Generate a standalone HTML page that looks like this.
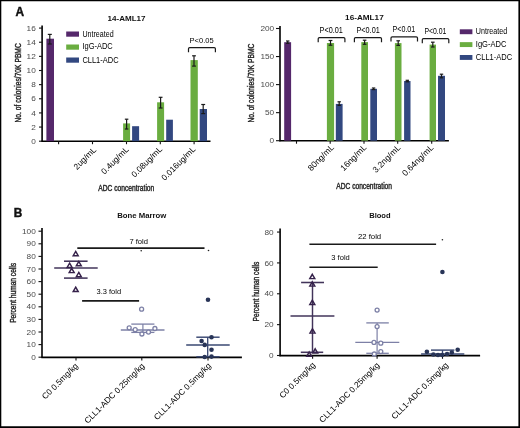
<!DOCTYPE html>
<html><head><meta charset="utf-8"><style>
html,body{margin:0;padding:0;background:#fff;}
svg{display:block;filter:blur(0.3px);}
text{font-family:"Liberation Sans", sans-serif;}
</style></head><body>
<svg width="520" height="428" viewBox="0 0 520 428">
<rect x="0" y="0" width="520" height="428" fill="#fff"/>
<text x="15.4" y="15.6" font-size="12.0" stroke="#111" stroke-width="0.42" textLength="8.6" lengthAdjust="spacingAndGlyphs" font-weight="bold" fill="#111">A</text>
<text x="13.7" y="216.6" font-size="12.0" stroke="#111" stroke-width="0.42" textLength="8.5" lengthAdjust="spacingAndGlyphs" font-weight="bold" fill="#111">B</text>
<line x1="42.1" y1="25.5" x2="42.1" y2="141.8" stroke="#000" stroke-width="1.6"/>
<line x1="41.4" y1="141.2" x2="210.5" y2="141.2" stroke="#000" stroke-width="1.6"/>
<line x1="39.0" y1="141.2" x2="42.1" y2="141.2" stroke="#111" stroke-width="1.1"/>
<text x="35.8" y="143.8" font-size="7.6" textLength="4.6" lengthAdjust="spacingAndGlyphs" text-anchor="end" fill="#4a4a4a">0</text>
<line x1="39.0" y1="127.06" x2="42.1" y2="127.06" stroke="#111" stroke-width="1.1"/>
<text x="35.8" y="129.66" font-size="7.6" textLength="4.6" lengthAdjust="spacingAndGlyphs" text-anchor="end" fill="#4a4a4a">2</text>
<line x1="39.0" y1="112.92" x2="42.1" y2="112.92" stroke="#111" stroke-width="1.1"/>
<text x="35.8" y="115.52" font-size="7.6" textLength="4.6" lengthAdjust="spacingAndGlyphs" text-anchor="end" fill="#4a4a4a">4</text>
<line x1="39.0" y1="98.78" x2="42.1" y2="98.78" stroke="#111" stroke-width="1.1"/>
<text x="35.8" y="101.38" font-size="7.6" textLength="4.6" lengthAdjust="spacingAndGlyphs" text-anchor="end" fill="#4a4a4a">6</text>
<line x1="39.0" y1="84.64" x2="42.1" y2="84.64" stroke="#111" stroke-width="1.1"/>
<text x="35.8" y="87.24" font-size="7.6" textLength="4.6" lengthAdjust="spacingAndGlyphs" text-anchor="end" fill="#4a4a4a">8</text>
<line x1="39.0" y1="70.5" x2="42.1" y2="70.5" stroke="#111" stroke-width="1.1"/>
<text x="35.8" y="73.1" font-size="7.6" textLength="9.2" lengthAdjust="spacingAndGlyphs" text-anchor="end" fill="#4a4a4a">10</text>
<line x1="39.0" y1="56.36" x2="42.1" y2="56.36" stroke="#111" stroke-width="1.1"/>
<text x="35.8" y="58.96" font-size="7.6" textLength="9.2" lengthAdjust="spacingAndGlyphs" text-anchor="end" fill="#4a4a4a">12</text>
<line x1="39.0" y1="42.22" x2="42.1" y2="42.22" stroke="#111" stroke-width="1.1"/>
<text x="35.8" y="44.82" font-size="7.6" textLength="9.2" lengthAdjust="spacingAndGlyphs" text-anchor="end" fill="#4a4a4a">14</text>
<line x1="39.0" y1="28.08" x2="42.1" y2="28.08" stroke="#111" stroke-width="1.1"/>
<text x="35.8" y="30.68" font-size="7.6" textLength="9.2" lengthAdjust="spacingAndGlyphs" text-anchor="end" fill="#4a4a4a">16</text>
<line x1="58.6" y1="141.2" x2="58.6" y2="144.2" stroke="#111" stroke-width="1.1"/>
<line x1="92.5" y1="141.2" x2="92.5" y2="144.2" stroke="#111" stroke-width="1.1"/>
<line x1="126.5" y1="141.2" x2="126.5" y2="144.2" stroke="#111" stroke-width="1.1"/>
<line x1="160.3" y1="141.2" x2="160.3" y2="144.2" stroke="#111" stroke-width="1.1"/>
<line x1="194.1" y1="141.2" x2="194.1" y2="144.2" stroke="#111" stroke-width="1.1"/>
<rect x="46.4" y="38.7" width="7.6" height="102.5" fill="#55286b"/>
<rect x="123.1" y="123.4" width="7.0" height="17.8" fill="#6aad40"/>
<rect x="132.1" y="126.2" width="7.0" height="15.0" fill="#324880"/>
<rect x="157.1" y="102.3" width="7.0" height="38.9" fill="#6aad40"/>
<rect x="166.2" y="119.7" width="6.7" height="21.5" fill="#324880"/>
<rect x="190.5" y="60.1" width="7.3" height="81.1" fill="#6aad40"/>
<rect x="199.7" y="109.0" width="7.3" height="32.2" fill="#324880"/>
<line x1="49.8" y1="34.4" x2="49.8" y2="44.0" stroke="#1a1a1a" stroke-width="1.2"/>
<line x1="47.8" y1="34.4" x2="51.8" y2="34.4" stroke="#1a1a1a" stroke-width="1.2"/>
<line x1="47.8" y1="44.0" x2="51.8" y2="44.0" stroke="#1a1a1a" stroke-width="1.2"/>
<line x1="126.6" y1="119.2" x2="126.6" y2="129.0" stroke="#1a1a1a" stroke-width="1.2"/>
<line x1="124.85" y1="119.2" x2="128.35" y2="119.2" stroke="#1a1a1a" stroke-width="1.2"/>
<line x1="124.85" y1="129.0" x2="128.35" y2="129.0" stroke="#1a1a1a" stroke-width="1.2"/>
<line x1="160.6" y1="97.3" x2="160.6" y2="108.0" stroke="#1a1a1a" stroke-width="1.2"/>
<line x1="158.7" y1="97.3" x2="162.5" y2="97.3" stroke="#1a1a1a" stroke-width="1.2"/>
<line x1="158.7" y1="108.0" x2="162.5" y2="108.0" stroke="#1a1a1a" stroke-width="1.2"/>
<line x1="194.0" y1="55.8" x2="194.0" y2="66.1" stroke="#1a1a1a" stroke-width="1.2"/>
<line x1="192.1" y1="55.8" x2="195.9" y2="55.8" stroke="#1a1a1a" stroke-width="1.2"/>
<line x1="192.1" y1="66.1" x2="195.9" y2="66.1" stroke="#1a1a1a" stroke-width="1.2"/>
<line x1="203.2" y1="104.5" x2="203.2" y2="113.6" stroke="#1a1a1a" stroke-width="1.2"/>
<line x1="201.25" y1="104.5" x2="205.15" y2="104.5" stroke="#1a1a1a" stroke-width="1.2"/>
<line x1="201.25" y1="113.6" x2="205.15" y2="113.6" stroke="#1a1a1a" stroke-width="1.2"/>
<path d="M188.5 52.300000000000004 L188.5 48.800000000000004 Q188.5 47.6 189.7 47.6 L214.20000000000002 47.6 Q215.4 47.6 215.4 48.800000000000004 L215.4 52.300000000000004" fill="none" stroke="#1a1a1a" stroke-width="1.2"/>
<text x="189.6" y="42.6" font-size="8.0" textLength="24.0" lengthAdjust="spacingAndGlyphs">P&lt;0.05</text>
<rect x="66.2" y="31.5" width="12.8" height="5.2" fill="#55286b"/>
<text x="82.4" y="36.7" font-size="8.2" textLength="31.2" lengthAdjust="spacingAndGlyphs">Untreated</text>
<rect x="66.2" y="44.5" width="12.8" height="5.2" fill="#6aad40"/>
<text x="82.4" y="49.2" font-size="8.2" textLength="30.4" lengthAdjust="spacingAndGlyphs">IgG-ADC</text>
<rect x="66.2" y="57.5" width="12.8" height="5.2" fill="#324880"/>
<text x="82.4" y="62.7" font-size="8.2" textLength="36.2" lengthAdjust="spacingAndGlyphs">CLL1-ADC</text>
<text x="107.5" y="20.6" font-size="7.6" textLength="38.1" lengthAdjust="spacingAndGlyphs" font-weight="bold" fill="#111">14-AML17</text>
<text x="21.0" y="122.6" font-size="8.8" stroke="#333" stroke-width="0.42" textLength="79.4" lengthAdjust="spacingAndGlyphs" transform="rotate(-90 21.0 122.6)">No. of colonies/70K PBMC</text>
<text x="98.3" y="190.7" font-size="8.6" stroke="#333" stroke-width="0.42" textLength="56.0" lengthAdjust="spacingAndGlyphs">ADC concentration</text>
<text x="96.8" y="150.4" font-size="8.4" text-anchor="end" transform="rotate(-45 96.8 150.4)">2ug/mL</text>
<text x="129.2" y="150.0" font-size="8.4" text-anchor="end" transform="rotate(-45 129.2 150.0)">0.4ug/mL</text>
<text x="162.8" y="149.8" font-size="8.4" text-anchor="end" transform="rotate(-45 162.8 149.8)">0.08ug/mL</text>
<text x="196.1" y="149.8" font-size="8.4" text-anchor="end" transform="rotate(-45 196.1 149.8)">0.016ug/mL</text>
<line x1="280.0" y1="25.9" x2="280.0" y2="141.3" stroke="#000" stroke-width="1.6"/>
<line x1="279.3" y1="140.7" x2="448.9" y2="140.7" stroke="#000" stroke-width="1.6"/>
<line x1="276.0" y1="140.7" x2="280.0" y2="140.7" stroke="#111" stroke-width="1.1"/>
<text x="274.2" y="143.3" font-size="7.6" textLength="4.6" lengthAdjust="spacingAndGlyphs" text-anchor="end" fill="#4a4a4a">0</text>
<line x1="276.0" y1="112.65" x2="280.0" y2="112.65" stroke="#111" stroke-width="1.1"/>
<text x="274.2" y="115.25" font-size="7.6" textLength="9.2" lengthAdjust="spacingAndGlyphs" text-anchor="end" fill="#4a4a4a">50</text>
<line x1="276.0" y1="84.6" x2="280.0" y2="84.6" stroke="#111" stroke-width="1.1"/>
<text x="274.2" y="87.2" font-size="7.6" textLength="13.8" lengthAdjust="spacingAndGlyphs" text-anchor="end" fill="#4a4a4a">100</text>
<line x1="276.0" y1="56.55" x2="280.0" y2="56.55" stroke="#111" stroke-width="1.1"/>
<text x="274.2" y="59.15" font-size="7.6" textLength="13.8" lengthAdjust="spacingAndGlyphs" text-anchor="end" fill="#4a4a4a">150</text>
<line x1="276.0" y1="28.5" x2="280.0" y2="28.5" stroke="#111" stroke-width="1.1"/>
<text x="274.2" y="31.1" font-size="7.6" textLength="13.8" lengthAdjust="spacingAndGlyphs" text-anchor="end" fill="#4a4a4a">200</text>
<line x1="296.5" y1="140.7" x2="296.5" y2="143.7" stroke="#111" stroke-width="1.1"/>
<line x1="330.2" y1="140.7" x2="330.2" y2="143.7" stroke="#111" stroke-width="1.1"/>
<line x1="364.0" y1="140.7" x2="364.0" y2="143.7" stroke="#111" stroke-width="1.1"/>
<line x1="397.7" y1="140.7" x2="397.7" y2="143.7" stroke="#111" stroke-width="1.1"/>
<line x1="431.7" y1="140.7" x2="431.7" y2="143.7" stroke="#111" stroke-width="1.1"/>
<rect x="284.2" y="42.2" width="6.9" height="98.5" fill="#55286b"/>
<rect x="326.9" y="43.0" width="7.2" height="97.7" fill="#6aad40"/>
<rect x="335.8" y="103.9" width="6.8" height="36.8" fill="#324880"/>
<rect x="361.3" y="42.1" width="6.7" height="98.6" fill="#6aad40"/>
<rect x="370.3" y="88.8" width="6.7" height="51.9" fill="#324880"/>
<rect x="394.9" y="43.1" width="6.6" height="97.6" fill="#6aad40"/>
<rect x="404.1" y="81.0" width="6.4" height="59.7" fill="#324880"/>
<rect x="429.6" y="44.6" width="6.4" height="96.1" fill="#6aad40"/>
<rect x="438.0" y="75.8" width="7.0" height="64.9" fill="#324880"/>
<line x1="287.7" y1="41.0" x2="287.7" y2="43.3" stroke="#1a1a1a" stroke-width="1.2"/>
<line x1="285.95" y1="41.0" x2="289.45" y2="41.0" stroke="#1a1a1a" stroke-width="1.2"/>
<line x1="285.95" y1="43.3" x2="289.45" y2="43.3" stroke="#1a1a1a" stroke-width="1.2"/>
<line x1="330.5" y1="40.5" x2="330.5" y2="45.2" stroke="#1a1a1a" stroke-width="1.2"/>
<line x1="328.6" y1="40.5" x2="332.4" y2="40.5" stroke="#1a1a1a" stroke-width="1.2"/>
<line x1="328.6" y1="45.2" x2="332.4" y2="45.2" stroke="#1a1a1a" stroke-width="1.2"/>
<line x1="339.2" y1="101.8" x2="339.2" y2="105.4" stroke="#1a1a1a" stroke-width="1.2"/>
<line x1="337.5" y1="101.8" x2="340.9" y2="101.8" stroke="#1a1a1a" stroke-width="1.2"/>
<line x1="337.5" y1="105.4" x2="340.9" y2="105.4" stroke="#1a1a1a" stroke-width="1.2"/>
<line x1="364.6" y1="40.2" x2="364.6" y2="44.3" stroke="#1a1a1a" stroke-width="1.2"/>
<line x1="362.8" y1="40.2" x2="366.4" y2="40.2" stroke="#1a1a1a" stroke-width="1.2"/>
<line x1="362.8" y1="44.3" x2="366.4" y2="44.3" stroke="#1a1a1a" stroke-width="1.2"/>
<line x1="373.6" y1="88.0" x2="373.6" y2="89.6" stroke="#1a1a1a" stroke-width="1.2"/>
<line x1="371.9" y1="88.0" x2="375.3" y2="88.0" stroke="#1a1a1a" stroke-width="1.2"/>
<line x1="371.9" y1="89.6" x2="375.3" y2="89.6" stroke="#1a1a1a" stroke-width="1.2"/>
<line x1="398.2" y1="40.8" x2="398.2" y2="45.4" stroke="#1a1a1a" stroke-width="1.2"/>
<line x1="396.4" y1="40.8" x2="400.0" y2="40.8" stroke="#1a1a1a" stroke-width="1.2"/>
<line x1="396.4" y1="45.4" x2="400.0" y2="45.4" stroke="#1a1a1a" stroke-width="1.2"/>
<line x1="407.3" y1="80.3" x2="407.3" y2="81.8" stroke="#1a1a1a" stroke-width="1.2"/>
<line x1="405.6" y1="80.3" x2="409.0" y2="80.3" stroke="#1a1a1a" stroke-width="1.2"/>
<line x1="405.6" y1="81.8" x2="409.0" y2="81.8" stroke="#1a1a1a" stroke-width="1.2"/>
<line x1="432.8" y1="42.2" x2="432.8" y2="47.0" stroke="#1a1a1a" stroke-width="1.2"/>
<line x1="431.0" y1="42.2" x2="434.6" y2="42.2" stroke="#1a1a1a" stroke-width="1.2"/>
<line x1="431.0" y1="47.0" x2="434.6" y2="47.0" stroke="#1a1a1a" stroke-width="1.2"/>
<line x1="441.5" y1="74.2" x2="441.5" y2="77.8" stroke="#1a1a1a" stroke-width="1.2"/>
<line x1="439.8" y1="74.2" x2="443.2" y2="74.2" stroke="#1a1a1a" stroke-width="1.2"/>
<line x1="439.8" y1="77.8" x2="443.2" y2="77.8" stroke="#1a1a1a" stroke-width="1.2"/>
<path d="M318.2 42.300000000000004 L318.2 38.800000000000004 Q318.2 37.6 319.4 37.6 L343.7 37.6 Q344.9 37.6 344.9 38.800000000000004 L344.9 42.300000000000004" fill="none" stroke="#1a1a1a" stroke-width="1.2"/>
<path d="M354.4 42.300000000000004 L354.4 38.800000000000004 Q354.4 37.6 355.59999999999997 37.6 L380.3 37.6 Q381.5 37.6 381.5 38.800000000000004 L381.5 42.300000000000004" fill="none" stroke="#1a1a1a" stroke-width="1.2"/>
<path d="M391.0 41.6 L391.0 38.1 Q391.0 36.9 392.2 36.9 L416.3 36.9 Q417.5 36.9 417.5 38.1 L417.5 41.6" fill="none" stroke="#1a1a1a" stroke-width="1.2"/>
<path d="M422.3 43.300000000000004 L422.3 39.800000000000004 Q422.3 38.6 423.5 38.6 L447.6 38.6 Q448.8 38.6 448.8 39.800000000000004 L448.8 43.300000000000004" fill="none" stroke="#1a1a1a" stroke-width="1.2"/>
<text x="319.6" y="32.8" font-size="8.3" textLength="23.2" lengthAdjust="spacingAndGlyphs">P&lt;0.01</text>
<text x="356.5" y="32.5" font-size="8.3" textLength="23.2" lengthAdjust="spacingAndGlyphs">P&lt;0.01</text>
<text x="392.5" y="31.6" font-size="8.3" textLength="22.8" lengthAdjust="spacingAndGlyphs">P&lt;0.01</text>
<text x="424.4" y="33.5" font-size="8.3" textLength="21.9" lengthAdjust="spacingAndGlyphs">P&lt;0.01</text>
<rect x="459.8" y="29.3" width="12.6" height="4.9" fill="#55286b"/>
<text x="475.8" y="34.0" font-size="8.2" textLength="31.4" lengthAdjust="spacingAndGlyphs">Untreated</text>
<rect x="459.8" y="42.15" width="12.6" height="4.9" fill="#6aad40"/>
<text x="475.8" y="47.0" font-size="8.2" textLength="30.6" lengthAdjust="spacingAndGlyphs">IgG-ADC</text>
<rect x="459.8" y="55.0" width="12.6" height="4.9" fill="#324880"/>
<text x="475.8" y="60.0" font-size="8.2" textLength="36.4" lengthAdjust="spacingAndGlyphs">CLL1-ADC</text>
<text x="345.1" y="20.0" font-size="7.6" textLength="38.6" lengthAdjust="spacingAndGlyphs" font-weight="bold" fill="#111">16-AML17</text>
<text x="254.2" y="122.6" font-size="8.8" stroke="#333" stroke-width="0.42" textLength="79.0" lengthAdjust="spacingAndGlyphs" transform="rotate(-90 254.2 122.6)">No. of colonies/70K PBMC</text>
<text x="336.3" y="189.3" font-size="8.6" stroke="#333" stroke-width="0.42" textLength="55.7" lengthAdjust="spacingAndGlyphs">ADC concentration</text>
<text x="334.6" y="148.0" font-size="8.5" text-anchor="end" transform="rotate(-45 334.6 148.0)">80ng/mL</text>
<text x="367.2" y="148.0" font-size="8.5" text-anchor="end" transform="rotate(-45 367.2 148.0)">16ng/mL</text>
<text x="401.1" y="148.2" font-size="8.5" text-anchor="end" transform="rotate(-45 401.1 148.2)">3.2ng/mL</text>
<text x="434.0" y="148.2" font-size="8.5" text-anchor="end" transform="rotate(-45 434.0 148.2)">0.64ng/mL</text>
<line x1="42.0" y1="228.0" x2="42.0" y2="358.0" stroke="#000" stroke-width="1.6"/>
<line x1="41.3" y1="357.4" x2="241.9" y2="357.4" stroke="#000" stroke-width="1.6"/>
<line x1="38.5" y1="357.2" x2="42.0" y2="357.2" stroke="#111" stroke-width="1.1"/>
<text x="35.8" y="359.8" font-size="7.6" textLength="4.6" lengthAdjust="spacingAndGlyphs" text-anchor="end" fill="#4a4a4a">0</text>
<line x1="38.5" y1="344.6" x2="42.0" y2="344.6" stroke="#111" stroke-width="1.1"/>
<text x="35.8" y="347.2" font-size="7.6" textLength="9.2" lengthAdjust="spacingAndGlyphs" text-anchor="end" fill="#4a4a4a">10</text>
<line x1="38.5" y1="332.0" x2="42.0" y2="332.0" stroke="#111" stroke-width="1.1"/>
<text x="35.8" y="334.6" font-size="7.6" textLength="9.2" lengthAdjust="spacingAndGlyphs" text-anchor="end" fill="#4a4a4a">20</text>
<line x1="38.5" y1="319.4" x2="42.0" y2="319.4" stroke="#111" stroke-width="1.1"/>
<text x="35.8" y="322.0" font-size="7.6" textLength="9.2" lengthAdjust="spacingAndGlyphs" text-anchor="end" fill="#4a4a4a">30</text>
<line x1="38.5" y1="306.8" x2="42.0" y2="306.8" stroke="#111" stroke-width="1.1"/>
<text x="35.8" y="309.4" font-size="7.6" textLength="9.2" lengthAdjust="spacingAndGlyphs" text-anchor="end" fill="#4a4a4a">40</text>
<line x1="38.5" y1="294.2" x2="42.0" y2="294.2" stroke="#111" stroke-width="1.1"/>
<text x="35.8" y="296.8" font-size="7.6" textLength="9.2" lengthAdjust="spacingAndGlyphs" text-anchor="end" fill="#4a4a4a">50</text>
<line x1="38.5" y1="281.6" x2="42.0" y2="281.6" stroke="#111" stroke-width="1.1"/>
<text x="35.8" y="284.2" font-size="7.6" textLength="9.2" lengthAdjust="spacingAndGlyphs" text-anchor="end" fill="#4a4a4a">60</text>
<line x1="38.5" y1="269.0" x2="42.0" y2="269.0" stroke="#111" stroke-width="1.1"/>
<text x="35.8" y="271.6" font-size="7.6" textLength="9.2" lengthAdjust="spacingAndGlyphs" text-anchor="end" fill="#4a4a4a">70</text>
<line x1="38.5" y1="256.4" x2="42.0" y2="256.4" stroke="#111" stroke-width="1.1"/>
<text x="35.8" y="259.0" font-size="7.6" textLength="9.2" lengthAdjust="spacingAndGlyphs" text-anchor="end" fill="#4a4a4a">80</text>
<line x1="38.5" y1="243.8" x2="42.0" y2="243.8" stroke="#111" stroke-width="1.1"/>
<text x="35.8" y="246.4" font-size="7.6" textLength="9.2" lengthAdjust="spacingAndGlyphs" text-anchor="end" fill="#4a4a4a">90</text>
<line x1="38.5" y1="231.2" x2="42.0" y2="231.2" stroke="#111" stroke-width="1.1"/>
<text x="35.8" y="233.8" font-size="7.6" textLength="13.8" lengthAdjust="spacingAndGlyphs" text-anchor="end" fill="#4a4a4a">100</text>
<line x1="76.0" y1="357.4" x2="76.0" y2="360.4" stroke="#111" stroke-width="1.1"/>
<line x1="141.8" y1="357.4" x2="141.8" y2="360.4" stroke="#111" stroke-width="1.1"/>
<line x1="208.0" y1="357.4" x2="208.0" y2="360.4" stroke="#111" stroke-width="1.1"/>
<text x="117.2" y="218.3" font-size="7.9" textLength="49.2" lengthAdjust="spacingAndGlyphs" font-weight="bold" fill="#111">Bone Marrow</text>
<text x="16.2" y="322.8" font-size="8.8" stroke="#333" stroke-width="0.42" textLength="59.9" lengthAdjust="spacingAndGlyphs" transform="rotate(-90 16.2 322.8)">Percent human cells</text>
<line x1="77.3" y1="248.1" x2="204.5" y2="248.1" stroke="#1a1a1a" stroke-width="1.6"/>
<line x1="82.1" y1="300.9" x2="139.1" y2="300.9" stroke="#1a1a1a" stroke-width="1.6"/>
<text x="129.4" y="243.5" font-size="8.1" textLength="18.6" lengthAdjust="spacingAndGlyphs">7 fold</text>
<text x="96.6" y="294.0" font-size="8.1" textLength="24.5" lengthAdjust="spacingAndGlyphs">3.3 fold</text>
<circle cx="141.2" cy="250.8" r="0.8" fill="#222"/>
<circle cx="208.5" cy="250.5" r="0.8" fill="#222"/>
<line x1="64.0" y1="261.2" x2="87.6" y2="261.2" stroke="#42345a" stroke-width="1.55"/>
<line x1="64.0" y1="278.1" x2="87.6" y2="278.1" stroke="#42345a" stroke-width="1.55"/>
<line x1="54.2" y1="268.0" x2="97.7" y2="268.0" stroke="#42345a" stroke-width="1.55"/>
<path d="M75.7 251.39 L78.2 255.74 L73.2 255.74 Z" fill="none" stroke="#35214a" stroke-width="1.45" stroke-linejoin="miter"/>
<path d="M69.6 263.09 L72.1 267.44 L67.1 267.44 Z" fill="none" stroke="#35214a" stroke-width="1.45" stroke-linejoin="miter"/>
<path d="M78.8 261.49 L81.3 265.84 L76.3 265.84 Z" fill="none" stroke="#35214a" stroke-width="1.45" stroke-linejoin="miter"/>
<path d="M71.7 268.29 L74.2 272.64 L69.2 272.64 Z" fill="none" stroke="#35214a" stroke-width="1.45" stroke-linejoin="miter"/>
<path d="M78.8 272.39 L81.3 276.74 L76.3 276.74 Z" fill="none" stroke="#35214a" stroke-width="1.45" stroke-linejoin="miter"/>
<path d="M75.7 287.19 L78.2 291.54 L73.2 291.54 Z" fill="none" stroke="#35214a" stroke-width="1.45" stroke-linejoin="miter"/>
<line x1="131.3" y1="324.1" x2="154.4" y2="324.1" stroke="#7d80a6" stroke-width="1.3"/>
<line x1="131.3" y1="332.4" x2="154.4" y2="332.4" stroke="#7d80a6" stroke-width="1.3"/>
<line x1="120.8" y1="330.0" x2="164.5" y2="330.0" stroke="#7d80a6" stroke-width="1.3"/>
<line x1="142.9" y1="324.1" x2="142.9" y2="332.4" stroke="#7d80a6" stroke-width="1.2"/>
<circle cx="129.2" cy="327.8" r="2.0" fill="#fff" stroke="#7d80a6" stroke-width="1.3"/>
<circle cx="135.2" cy="329.7" r="2.0" fill="#fff" stroke="#7d80a6" stroke-width="1.3"/>
<circle cx="141.9" cy="334.0" r="2.0" fill="#fff" stroke="#7d80a6" stroke-width="1.3"/>
<circle cx="148.5" cy="332.1" r="2.0" fill="#fff" stroke="#7d80a6" stroke-width="1.3"/>
<circle cx="154.9" cy="328.5" r="2.0" fill="#fff" stroke="#7d80a6" stroke-width="1.3"/>
<circle cx="141.6" cy="309.2" r="2.0" fill="#fff" stroke="#7d80a6" stroke-width="1.3"/>
<line x1="196.3" y1="337.2" x2="219.6" y2="337.2" stroke="#3a4872" stroke-width="1.45"/>
<line x1="186.2" y1="344.9" x2="229.7" y2="344.9" stroke="#3a4872" stroke-width="1.45"/>
<line x1="196.3" y1="356.8" x2="219.6" y2="356.8" stroke="#3a4872" stroke-width="1.45"/>
<line x1="207.7" y1="337.2" x2="207.7" y2="357.0" stroke="#3a4872" stroke-width="1.35"/>
<circle cx="211.5" cy="337.2" r="2.3" fill="#283457"/>
<circle cx="201.6" cy="341.0" r="2.3" fill="#283457"/>
<circle cx="204.7" cy="344.9" r="2.3" fill="#283457"/>
<circle cx="211.5" cy="349.8" r="2.3" fill="#283457"/>
<circle cx="204.7" cy="357.0" r="2.3" fill="#283457"/>
<circle cx="211.5" cy="356.6" r="2.3" fill="#283457"/>
<circle cx="208.0" cy="299.8" r="2.3" fill="#283457"/>
<text x="78.6" y="366.5" font-size="8.3" text-anchor="end" transform="rotate(-45 78.6 366.5)">C0 0.5mg/kg</text>
<text x="145.1" y="366.5" font-size="8.3" text-anchor="end" transform="rotate(-45 145.1 366.5)">CLL1-ADC 0.25mg/kg</text>
<text x="211.5" y="366.3" font-size="8.3" text-anchor="end" transform="rotate(-45 211.5 366.3)">CLL1-ADC 0.5mg/kg</text>
<line x1="280.1" y1="228.4" x2="280.1" y2="356.2" stroke="#000" stroke-width="1.6"/>
<line x1="279.4" y1="355.6" x2="480.1" y2="355.6" stroke="#000" stroke-width="1.6"/>
<line x1="277.0" y1="355.5" x2="280.1" y2="355.5" stroke="#111" stroke-width="1.1"/>
<text x="273.6" y="358.1" font-size="7.6" textLength="4.6" lengthAdjust="spacingAndGlyphs" text-anchor="end" fill="#4a4a4a">0</text>
<line x1="277.0" y1="324.64" x2="280.1" y2="324.64" stroke="#111" stroke-width="1.1"/>
<text x="273.6" y="327.24" font-size="7.6" textLength="9.2" lengthAdjust="spacingAndGlyphs" text-anchor="end" fill="#4a4a4a">20</text>
<line x1="277.0" y1="293.78" x2="280.1" y2="293.78" stroke="#111" stroke-width="1.1"/>
<text x="273.6" y="296.38" font-size="7.6" textLength="9.2" lengthAdjust="spacingAndGlyphs" text-anchor="end" fill="#4a4a4a">40</text>
<line x1="277.0" y1="262.92" x2="280.1" y2="262.92" stroke="#111" stroke-width="1.1"/>
<text x="273.6" y="265.52" font-size="7.6" textLength="9.2" lengthAdjust="spacingAndGlyphs" text-anchor="end" fill="#4a4a4a">60</text>
<line x1="277.0" y1="232.06" x2="280.1" y2="232.06" stroke="#111" stroke-width="1.1"/>
<text x="273.6" y="234.66" font-size="7.6" textLength="9.2" lengthAdjust="spacingAndGlyphs" text-anchor="end" fill="#4a4a4a">80</text>
<line x1="312.6" y1="355.6" x2="312.6" y2="358.8" stroke="#111" stroke-width="1.1"/>
<line x1="377.1" y1="355.6" x2="377.1" y2="358.8" stroke="#111" stroke-width="1.1"/>
<line x1="442.5" y1="355.6" x2="442.5" y2="358.8" stroke="#111" stroke-width="1.1"/>
<text x="369.2" y="218.0" font-size="7.9" textLength="21.4" lengthAdjust="spacingAndGlyphs" font-weight="bold" fill="#111">Blood</text>
<text x="258.6" y="321.4" font-size="8.8" stroke="#333" stroke-width="0.42" textLength="59.7" lengthAdjust="spacingAndGlyphs" transform="rotate(-90 258.6 321.4)">Percent human cells</text>
<line x1="309.4" y1="244.3" x2="436.1" y2="244.3" stroke="#1a1a1a" stroke-width="1.6"/>
<line x1="309.4" y1="267.2" x2="377.7" y2="267.2" stroke="#1a1a1a" stroke-width="1.6"/>
<text x="357.9" y="238.8" font-size="8.1" textLength="23.3" lengthAdjust="spacingAndGlyphs">22 fold</text>
<text x="331.3" y="259.6" font-size="8.1" textLength="18.5" lengthAdjust="spacingAndGlyphs">3 fold</text>
<circle cx="442.4" cy="239.7" r="0.8" fill="#222"/>
<line x1="290.5" y1="315.9" x2="334.4" y2="315.9" stroke="#42345a" stroke-width="1.55"/>
<line x1="301.1" y1="282.5" x2="324.0" y2="282.5" stroke="#42345a" stroke-width="1.55"/>
<line x1="300.8" y1="352.3" x2="323.2" y2="352.3" stroke="#42345a" stroke-width="1.55"/>
<line x1="312.5" y1="282.5" x2="312.5" y2="352.3" stroke="#42345a" stroke-width="1.45"/>
<path d="M312.3 274.29 L314.8 278.64 L309.8 278.64 Z" fill="none" stroke="#35214a" stroke-width="1.45" stroke-linejoin="miter"/>
<path d="M312.3 281.79 L314.8 286.14 L309.8 286.14 Z" fill="none" stroke="#35214a" stroke-width="1.45" stroke-linejoin="miter"/>
<path d="M312.3 300.09 L314.8 304.44 L309.8 304.44 Z" fill="none" stroke="#35214a" stroke-width="1.45" stroke-linejoin="miter"/>
<path d="M312.5 328.79 L315.0 333.14 L310.0 333.14 Z" fill="none" stroke="#35214a" stroke-width="1.45" stroke-linejoin="miter"/>
<path d="M309.2 351.99 L311.7 356.34 L306.7 356.34 Z" fill="none" stroke="#35214a" stroke-width="1.45" stroke-linejoin="miter"/>
<path d="M315.2 348.79 L317.7 353.14 L312.7 353.14 Z" fill="none" stroke="#35214a" stroke-width="1.45" stroke-linejoin="miter"/>
<line x1="366.3" y1="322.9" x2="388.8" y2="322.9" stroke="#7d80a6" stroke-width="1.3"/>
<line x1="366.3" y1="353.3" x2="388.8" y2="353.3" stroke="#7d80a6" stroke-width="1.3"/>
<line x1="355.3" y1="342.4" x2="399.3" y2="342.4" stroke="#7d80a6" stroke-width="1.3"/>
<line x1="377.1" y1="322.9" x2="377.1" y2="353.3" stroke="#7d80a6" stroke-width="1.2"/>
<circle cx="377.1" cy="310.1" r="2.0" fill="#fff" stroke="#7d80a6" stroke-width="1.3"/>
<circle cx="377.1" cy="326.6" r="2.0" fill="#fff" stroke="#7d80a6" stroke-width="1.3"/>
<circle cx="374.0" cy="342.4" r="2.0" fill="#fff" stroke="#7d80a6" stroke-width="1.3"/>
<circle cx="380.8" cy="343.2" r="2.0" fill="#fff" stroke="#7d80a6" stroke-width="1.3"/>
<circle cx="374.3" cy="354.0" r="2.0" fill="#fff" stroke="#7d80a6" stroke-width="1.3"/>
<circle cx="380.8" cy="351.6" r="2.0" fill="#fff" stroke="#7d80a6" stroke-width="1.3"/>
<line x1="431.0" y1="350.1" x2="454.4" y2="350.1" stroke="#3a4872" stroke-width="1.45"/>
<line x1="421.1" y1="353.9" x2="464.3" y2="353.9" stroke="#3a4872" stroke-width="1.45"/>
<line x1="442.5" y1="350.1" x2="442.5" y2="355.0" stroke="#3a4872" stroke-width="1.35"/>
<circle cx="457.7" cy="349.8" r="2.3" fill="#283457"/>
<circle cx="426.9" cy="351.8" r="2.3" fill="#283457"/>
<circle cx="433.4" cy="354.5" r="2.3" fill="#283457"/>
<circle cx="438.0" cy="355.0" r="2.3" fill="#283457"/>
<circle cx="442.1" cy="355.0" r="2.3" fill="#283457"/>
<circle cx="447.1" cy="354.0" r="2.3" fill="#283457"/>
<circle cx="451.8" cy="352.5" r="2.3" fill="#283457"/>
<circle cx="442.4" cy="272.0" r="2.3" fill="#283457"/>
<text x="315.9" y="365.5" font-size="8.3" text-anchor="end" transform="rotate(-45 315.9 365.5)">C0 0.5mg/kg</text>
<text x="380.0" y="365.8" font-size="8.3" text-anchor="end" transform="rotate(-45 380.0 365.8)">CLL1-ADC 0.25mg/kg</text>
<text x="448.9" y="365.6" font-size="8.3" text-anchor="end" transform="rotate(-45 448.9 365.6)">CLL1-ADC 0.5mg/kg</text>
<line x1="0.65" y1="0" x2="0.65" y2="428" stroke="#000" stroke-width="1.3"/>
<line x1="0" y1="0.65" x2="520" y2="0.65" stroke="#000" stroke-width="1.3"/>
<line x1="519.2" y1="0" x2="519.2" y2="428" stroke="#000" stroke-width="1.6"/>
<line x1="0" y1="427.1" x2="520" y2="427.1" stroke="#000" stroke-width="1.8"/>
</svg>
</body></html>
